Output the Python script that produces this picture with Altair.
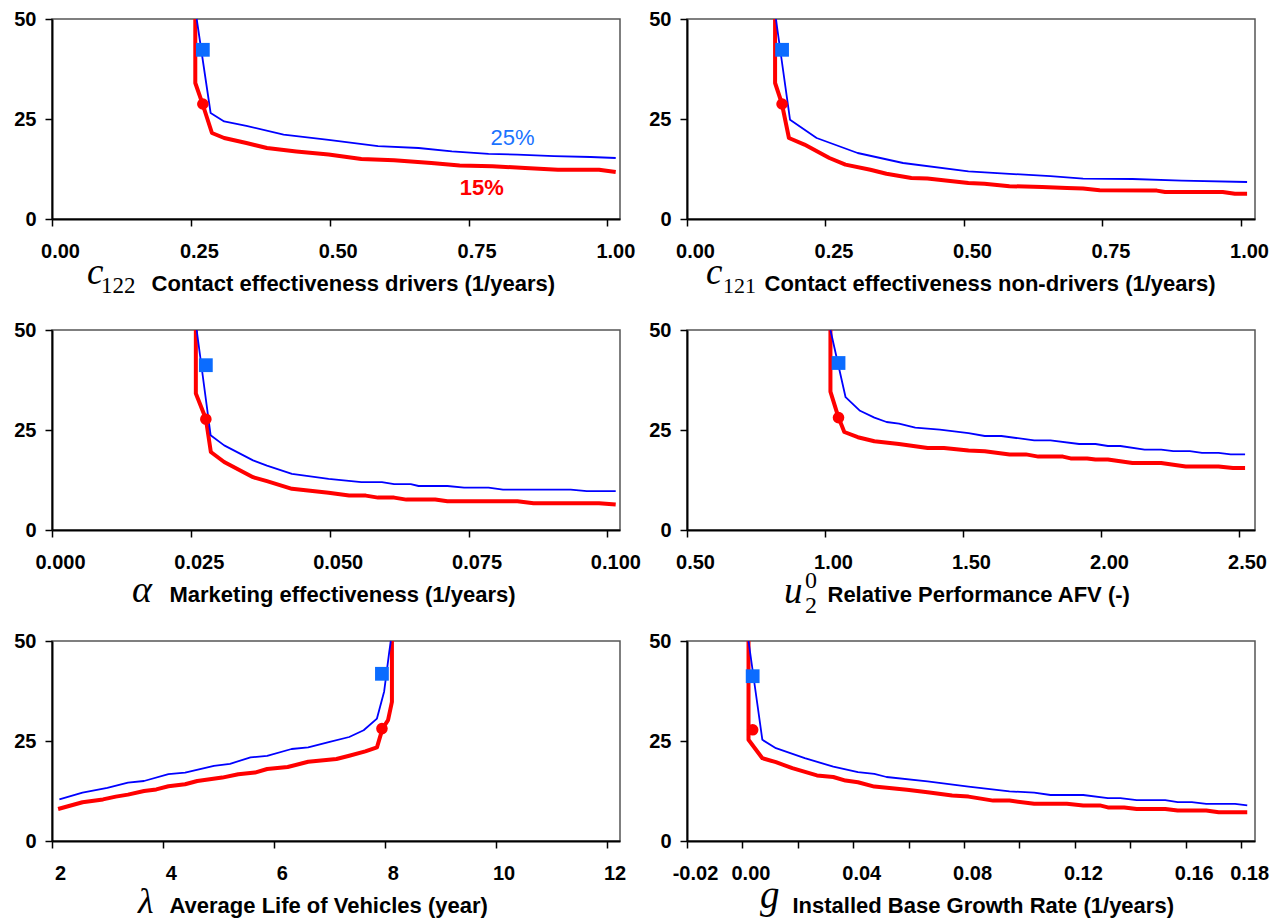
import altair as alt
import pandas as pd

# ---------------- data ----------------
# Panel 1: c122 Contact effectiveness drivers
p1_blue_x = [0.2605, 0.2856, 0.310, 0.350, 0.417, 0.498, 0.587, 0.660, 0.720, 0.786, 0.838, 0.904, 0.970, 1.015]
p1_blue_y = [50.0, 26.5, 24.4, 23.3, 21.1, 19.8, 18.2, 17.75, 16.9, 16.3, 16.1, 15.7, 15.5, 15.25]
p1_red_x = [0.258, 0.258, 0.270, 0.288, 0.310, 0.350, 0.387, 0.440, 0.498, 0.557, 0.616, 0.683, 0.734, 0.793, 0.852, 0.911, 0.985, 1.015]
p1_red_y = [50.0, 34.0, 29.2, 21.5, 20.25, 19.0, 17.75, 16.9, 16.1, 15.0, 14.7, 14.0, 13.4, 13.2, 12.75, 12.3, 12.3, 11.75]
p1_marks = [0.2716, 42.3, 0.2716, 28.75]

# Panel 2: c121 Contact effectiveness non-drivers
p2_blue_x = [0.1605, 0.186, 0.234, 0.308, 0.390, 0.508, 0.582, 0.656, 0.715, 0.804, 0.893, 1.011]
p2_blue_y = [50.0, 24.8, 20.25, 16.5, 14.0, 11.9, 11.3, 10.7, 10.1, 10.0, 9.6, 9.25]
p2_red_x = [0.159, 0.159, 0.171, 0.184, 0.212, 0.257, 0.286, 0.331, 0.360, 0.405, 0.434, 0.508, 0.537, 0.582, 0.641, 0.686, 0.715, 0.745, 0.848, 0.863, 0.967, 0.989, 1.011]
p2_red_y = [50.0, 34.0, 29.0, 20.25, 18.6, 15.25, 13.6, 12.3, 11.3, 10.25, 10.1, 9.0, 8.8, 8.2, 8.0, 7.75, 7.6, 7.2, 7.1, 6.75, 6.75, 6.3, 6.3]
p2_marks = [0.1716, 42.3, 0.1716, 28.75]

# Panel 3: alpha Marketing effectiveness
p3_blue_x = [0.02605, 0.02856, 0.0310, 0.0362, 0.0387, 0.0432, 0.0498, 0.0557, 0.0594, 0.0616, 0.0646, 0.0660, 0.0712, 0.0742, 0.0786, 0.0812, 0.0934, 0.0963, 0.1015]
p3_blue_y = [50.0, 23.7, 21.15, 17.4, 16.1, 14.05, 12.8, 11.96, 11.96, 11.45, 11.45, 11.0, 11.0, 10.6, 10.6, 10.1, 10.1, 9.7, 9.7]
p3_red_x = [0.0259, 0.0259, 0.0277, 0.0286, 0.0310, 0.0362, 0.0387, 0.0432, 0.0498, 0.0535, 0.0565, 0.0587, 0.0616, 0.0638, 0.0690, 0.0712, 0.0838, 0.0867, 0.0985, 0.1015]
p3_red_y = [50.0, 34.1, 27.8, 19.5, 17.0, 13.2, 12.2, 10.3, 9.3, 8.6, 8.6, 8.1, 8.1, 7.6, 7.6, 7.2, 7.2, 6.7, 6.7, 6.35]
p3_marks = [0.0277, 41.2, 0.0277, 27.7]

# Panel 4: u2^0 Relative Performance AFV
p4_blue_x = [1.0197, 1.0746, 1.127, 1.179, 1.223, 1.268, 1.327, 1.416, 1.52, 1.579, 1.639, 1.758, 1.817, 1.921, 1.98, 2.025, 2.07, 2.158, 2.218, 2.262, 2.322, 2.366, 2.426, 2.47, 2.522]
p4_blue_y = [50.0, 33.2, 29.8, 28.1, 27.0, 26.6, 25.6, 25.1, 24.2, 23.5, 23.5, 22.4, 22.4, 21.5, 21.5, 21.0, 21.0, 20.1, 20.1, 19.7, 19.7, 19.3, 19.3, 18.9, 18.9]
p4_red_x = [1.0197, 1.0197, 1.049, 1.07, 1.119, 1.179, 1.268, 1.372, 1.431, 1.52, 1.579, 1.669, 1.728, 1.773, 1.862, 1.89, 1.95, 1.98, 2.025, 2.114, 2.218, 2.307, 2.426, 2.478, 2.522]
p4_red_y = [50.0, 34.6, 28.1, 24.5, 23.2, 22.2, 21.5, 20.5, 20.5, 19.9, 19.7, 18.9, 18.9, 18.35, 18.35, 17.9, 17.9, 17.6, 17.6, 16.75, 16.75, 15.9, 15.9, 15.5, 15.5]
p4_marks = [1.049, 41.75, 1.049, 28.1]

# Panel 5: lambda Average Life of Vehicles
p5_blue_x = [2.133, 2.55, 2.998, 3.37, 3.66, 4.1, 4.4, 4.92, 5.21, 5.58, 5.88, 6.32, 6.62, 6.99, 7.36, 7.62, 7.86, 7.99, 8.08, 8.11]
p5_blue_y = [10.4, 12.1, 13.3, 14.6, 15.0, 16.7, 17.1, 18.8, 19.3, 20.9, 21.3, 23.0, 23.4, 24.7, 26.0, 27.7, 30.6, 37.4, 47.1, 50.0]
p5_red_x = [2.11, 2.55, 2.92, 3.15, 3.37, 3.66, 3.88, 4.1, 4.4, 4.62, 5.07, 5.36, 5.66, 5.88, 6.25, 6.62, 7.13, 7.36, 7.65, 7.86, 7.96, 8.06, 8.13, 8.13]
p5_red_y = [8.0, 9.7, 10.4, 11.1, 11.6, 12.5, 12.9, 13.7, 14.2, 15.0, 15.85, 16.7, 17.1, 18.0, 18.5, 19.8, 20.5, 21.3, 22.4, 23.4, 28.1, 30.2, 34.8, 50.0]
p5_marks = [7.95, 41.8, 7.95, 28.1]

# Panel 6: g Installed Base Growth Rate
p6_blue_x = [0.0022, 0.0072, 0.0121, 0.0225, 0.0328, 0.0417, 0.0476, 0.052, 0.0668, 0.0816, 0.0964, 0.1053, 0.1112, 0.123, 0.1319, 0.1364, 0.1423, 0.1526, 0.1571, 0.1622, 0.1674, 0.1778, 0.1822]
p6_blue_y = [50.0, 25.3, 23.2, 20.7, 18.6, 17.2, 16.8, 16.0, 14.9, 13.6, 12.4, 12.1, 11.5, 11.5, 10.7, 10.7, 10.2, 10.2, 9.7, 9.7, 9.3, 9.3, 8.9]
p6_red_x = [0.0022, 0.0022, 0.0072, 0.0121, 0.018, 0.0269, 0.0328, 0.0372, 0.0417, 0.0476, 0.0594, 0.0668, 0.0757, 0.0816, 0.0905, 0.0964, 0.1053, 0.1171, 0.123, 0.129, 0.1319, 0.1378, 0.1423, 0.1526, 0.1571, 0.1674, 0.1719, 0.1822]
p6_red_y = [50.0, 25.3, 20.7, 19.7, 18.2, 16.4, 16.0, 15.1, 14.7, 13.6, 12.8, 12.2, 11.4, 11.1, 10.1, 10.1, 9.3, 9.3, 8.9, 8.9, 8.4, 8.4, 8.0, 8.0, 7.6, 7.6, 7.2, 7.2]
p6_marks = [0.0037, 41.2, 0.0037, 27.8]

# tick values
p1_ticks = [0.0, 0.25, 0.5, 0.75, 1.0]
p3_ticks = [0.0, 0.025, 0.05, 0.075, 0.1]
p4_ticks = [0.5, 1.0, 1.5, 2.0, 2.5]
p5_ticks = [2, 4, 6, 8, 10, 12]
p6_ticks = [-0.02, 0.0, 0.02, 0.04, 0.06, 0.08, 0.10, 0.12, 0.14, 0.16, 0.18]
p6_labelled = [-2, 0, 4, 8, 12, 16, 18]   # hundredths that carry a label
y_ticks = [0, 25, 50]

# series labels in panel 1
lab_text = ["25%", "15%"]
lab_x = [0.829, 0.774]
lab_y = [20.25, 7.75]

# axis titles
titles = [
    "Contact effectiveness drivers (1/years)",
    "Contact effectiveness non-drivers (1/years)",
    "Marketing effectiveness (1/years)",
    "Relative Performance AFV (-)",
    "Average Life of Vehicles (year)",
    "Installed Base Growth Rate (1/years)",
]

W, H = 568, 200
BLUE = "#0000ff"
RED = "#ff0000"
SQ = "#0b6cff"
SERIF = "Liberation Serif"


def make_panel(bx, by, rx, ry, marks, xdom, xticks, xfmt, title, title_x, symbols,
               label_expr=None, extra=None):
    xs = alt.Scale(domain=xdom, nice=False, zero=False)
    ys = alt.Scale(domain=[0, 50], nice=False, zero=False)
    ax_kwargs = dict(values=xticks, title=title, titleX=title_x, titleY=71,
                     titleAlign="left", titleBaseline="alphabetic", titleAngle=0,
                     labelOffset=8, labelOverlap=False, labelFlush=False)
    if label_expr:
        ax_kwargs["labelExpr"] = label_expr
    else:
        ax_kwargs["format"] = xfmt
    xax = alt.Axis(**ax_kwargs)
    yax = alt.Axis(values=y_ticks, format="d", title=None, labelPadding=9, tickSize=7,
                   labelOverlap=False, labelFlush=False)

    def enc():
        return dict(x=alt.X("x:Q", scale=xs, axis=xax), y=alt.Y("y:Q", scale=ys, axis=yax))

    dfb = pd.DataFrame({"x": bx, "y": by, "i": list(range(len(bx)))})
    dfr = pd.DataFrame({"x": rx, "y": ry, "i": list(range(len(rx)))})
    blue = alt.Chart(dfb).mark_line(color=BLUE, strokeWidth=1.8, strokeJoin="round").encode(
        order="i:Q", **enc())
    red = alt.Chart(dfr).mark_line(color=RED, strokeWidth=4, strokeJoin="round").encode(
        order="i:Q", **enc())
    sq = alt.Chart(pd.DataFrame({"x": [marks[0]], "y": [marks[1]]})).mark_square(
        color=SQ, size=190, opacity=1, filled=True).encode(**enc())
    ci = alt.Chart(pd.DataFrame({"x": [marks[2]], "y": [marks[3]]})).mark_circle(
        color=RED, size=135, opacity=1).encode(**enc())
    layers = [red, blue, sq, ci]
    one = pd.DataFrame({"a": [0]})
    for (txt, px, py, fs, ital) in symbols:
        layers.append(
            alt.Chart(one).mark_text(font=SERIF, fontSize=fs, fontStyle="italic" if ital else "normal",
                                     align="left", baseline="alphabetic", color="black").encode(
                x=alt.value(px), y=alt.value(py), text=alt.value(txt))
        )
    if extra is not None:
        layers.extend(extra(enc))
    return alt.layer(*layers).properties(width=W, height=H)


def p1_extra(enc):
    df = pd.DataFrame({"x": lab_x, "y": lab_y, "t": lab_text})
    a = alt.Chart(df.iloc[[0]]).mark_text(color="#1a73ff", fontSize=22, font="Liberation Sans",
                                          align="center", baseline="middle").encode(text="t:N", **enc())
    b = alt.Chart(df.iloc[[1]]).mark_text(color=RED, fontSize=22, font="Liberation Sans",
                                          fontWeight="bold", align="center",
                                          baseline="middle").encode(text="t:N", **enc())
    return [a, b]


g_expr = ("indexof(" + str(p6_labelled) + ", round(datum.value * 100)) >= 0 ? "
          "(datum.value < -0.001 ? '-0.02' : format(datum.value, '.2f')) : ''")

panels = [
    make_panel(p1_blue_x, p1_blue_y, p1_red_x, p1_red_y, p1_marks, [0, 1.0227], p1_ticks, ".2f",
               titles[0], 99, [("c", 35, 265, 37, True), ("122", 49, 274, 23, False)], extra=p1_extra),
    make_panel(p2_blue_x, p2_blue_y, p2_red_x, p2_red_y, p2_marks, [0, 1.0253], p1_ticks, ".2f",
               titles[1], 77, [("c", 19, 265, 37, True), ("121", 36, 274, 22, False)]),
    make_panel(p3_blue_x, p3_blue_y, p3_red_x, p3_red_y, p3_marks, [0, 0.10227], p3_ticks, ".3f",
               titles[2], 117, [("α", 80, 272, 38, True)]),
    make_panel(p4_blue_x, p4_blue_y, p4_red_x, p4_red_y, p4_marks, [0.5, 2.558], p4_ticks, ".2f",
               titles[3], 140, [("u", 97, 273, 37, True), ("0", 118, 258, 24, False),
                                ("2", 118, 283, 24, False)]),
    make_panel(p5_blue_x, p5_blue_y, p5_red_x, p5_red_y, p5_marks, [2, 12.243], p5_ticks, "d",
               titles[4], 117, [("λ", 86, 272, 36, True)]),
    make_panel(p6_blue_x, p6_blue_y, p6_red_x, p6_red_y, p6_marks, [-0.02, 0.185], p6_ticks, ".2f",
               titles[5], 105, [("g", 73, 267, 39, True)], label_expr=g_expr),
]

chart = alt.concat(*panels, columns=2, spacing={"row": 111, "column": 67}, bounds="flush").properties(
    padding={"left": 5, "top": 0, "right": 0, "bottom": 0},
    background="white",
).configure_axis(
    grid=False,
    domainColor="black",
    domainWidth=2,
    tickColor="black",
    tickWidth=1.5,
    tickSize=7,
    labelFont="Liberation Sans",
    labelFontSize=20,
    labelFontWeight="bold",
    labelColor="black",
    labelPadding=15,
    titleFont="Liberation Sans",
    titleFontSize=22,
    titleFontWeight="bold",
    titleColor="black",
).configure_view(
    stroke="#555555",
    strokeWidth=1.5,
)

chart.save("out.html", embed_options={"renderer": "svg", "actions": False})
